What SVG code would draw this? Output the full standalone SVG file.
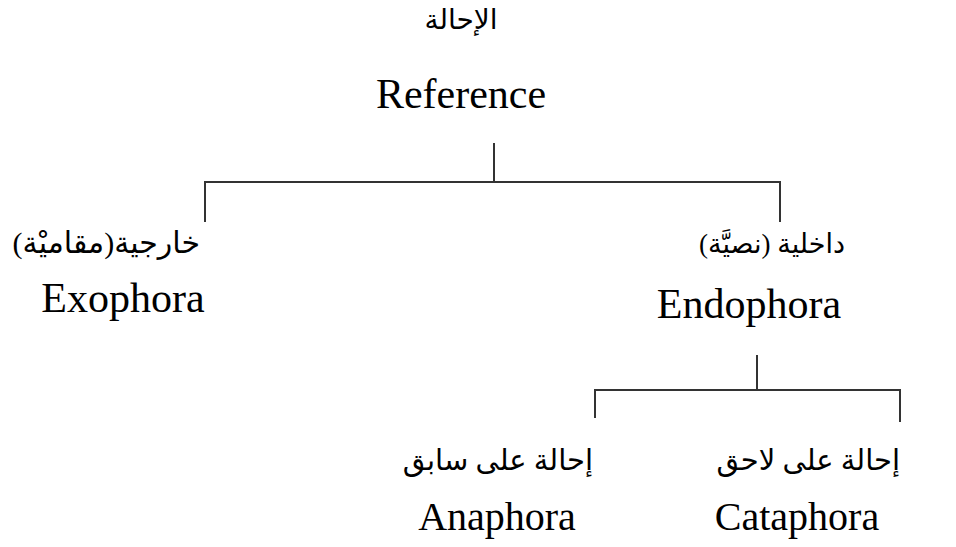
<svg xmlns="http://www.w3.org/2000/svg" width="956" height="547" viewBox="0 0 956 547">
<style>
.en{font-family:"Liberation Serif","Times New Roman",serif;font-size:42px;fill:#000}
.sm{font-size:40px}
.ar{font-family:"Liberation Serif","DejaVu Sans","Noto Sans",serif;font-size:28px;fill:#000}
.ln{stroke:#333;stroke-width:2;fill:none}
</style>
<rect width="956" height="547" fill="#fff"/>
<g id="connectors">
<path class="ln" d="M494 143V182M205 222V182H780V222"/>
<path class="ln" d="M757 355V390M595 418V390H900V422"/>
</g>
<g id="reference">
<text class="ar" x="461" y="29" text-anchor="middle" direction="rtl">الإحالة</text>
<text class="en" x="461" y="108" text-anchor="middle">Reference</text>
</g>
<g id="exophora">
<text class="ar" x="200" y="253" text-anchor="start" direction="rtl" style="font-size:30px">خارجية(مقاميْة)</text>
<text class="en" x="123" y="312" text-anchor="middle">Exophora</text>
</g>
<g id="endophora">
<text class="ar" x="845" y="253" text-anchor="start" direction="rtl" style="font-size:27px">داخلية (نصيَّة)</text>
<text class="en" x="749" y="318" text-anchor="middle">Endophora</text>
</g>
<g id="anaphora">
<text class="ar" x="593" y="470" text-anchor="start" direction="rtl" style="font-size:29px">إحالة على سابق</text>
<text class="en sm" x="497" y="530" text-anchor="middle">Anaphora</text>
</g>
<g id="cataphora">
<text class="ar" x="900" y="470" text-anchor="start" direction="rtl" style="font-size:29px">إحالة على لاحق</text>
<text class="en sm" x="797" y="530" text-anchor="middle">Cataphora</text>
</g>
</svg>
